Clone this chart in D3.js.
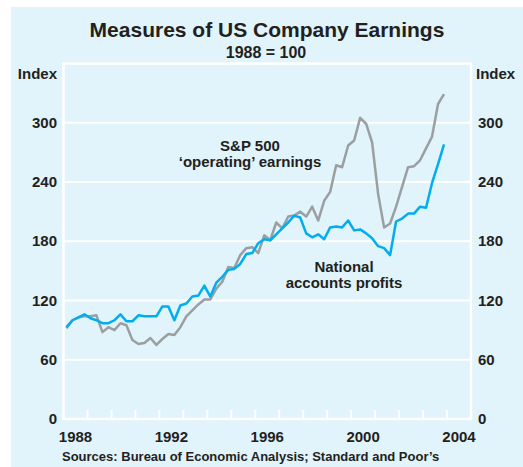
<!DOCTYPE html>
<html>
<head>
<meta charset="utf-8">
<script src="https://cdn.jsdelivr.net/npm/d3@7"></script>
<style>
  body { margin: 0; background: #fff; }
  svg text { font-family: "Liberation Sans", Arial, sans-serif; font-weight: bold; fill: #231f20; }
</style>
</head>
<body>
<svg id="chart" width="523" height="467"></svg>
<script>
// quarterly index values, 1988 Q1 .. 2003 Q4 (1988 = 100)
var quarters = d3.range(64).map(function(i) { return 1988 + i / 4 + 0.125; });

var nationalProfits = [
  93, 100, 103, 106, 102, 100, 97, 97, 100, 106, 99, 99, 105, 104, 104, 104,
  114, 114, 100, 115, 117, 124, 125, 135, 124, 138, 144, 151, 152, 157, 167, 168,
  178, 182, 181, 187, 193, 199, 206, 204, 188, 184, 187, 182, 194, 195, 194, 201,
  191, 192, 188, 183, 175, 173, 166, 200, 203, 208, 208, 215, 214, 239, 258, 278
];

var spOperating = [
  92, 100, 103, 104, 104, 105, 88, 93, 90, 97, 95, 80, 76, 77, 82, 75,
  81, 86, 85, 93, 104, 110, 116, 121, 121, 132, 139, 154, 153, 166, 173, 174,
  168, 186, 181, 199, 193, 205, 206, 210, 205, 215, 201, 221, 230, 257, 255, 277,
  282, 305, 299, 280, 228, 194, 198, 215, 235, 255, 256, 262, 274, 286, 319, 329
];

var yTicks = [0, 60, 120, 180, 240, 300];
var yearLabels = [1988, 1992, 1996, 2000, 2004];

var svg = d3.select("#chart");

// panel background
svg.append("rect")
  .attr("x", 11).attr("y", 7)
  .attr("width", 512).attr("height", 460)
  .attr("fill", "#e1f3fb");

var plotLeft = 63.5, plotRight = 471, plotTop = 63.5, plotBottom = 419;

var x = d3.scaleLinear().domain([1988, 2005]).range([plotLeft, plotRight]);
var y = d3.scaleLinear().domain([0, 360]).range([plotBottom, plotTop]);

// grid lines
svg.append("g").selectAll("line")
  .data(yTicks.filter(function(d) { return d > 0; }))
  .enter().append("line")
  .attr("x1", plotLeft).attr("x2", plotRight)
  .attr("y1", function(d) { return y(d); })
  .attr("y2", function(d) { return y(d); })
  .attr("stroke", "#fff")
  .attr("stroke-width", 2);

// frame
svg.append("rect")
  .attr("x", plotLeft).attr("y", plotTop)
  .attr("width", plotRight - plotLeft).attr("height", plotBottom - plotTop)
  .attr("fill", "none")
  .attr("stroke", "#fff")
  .attr("stroke-width", 2.5);

// year ticks along the bottom
svg.append("g").selectAll("line")
  .data(d3.range(1989, 2005))
  .enter().append("line")
  .attr("x1", function(d) { return x(d); })
  .attr("x2", function(d) { return x(d); })
  .attr("y1", plotBottom).attr("y2", plotBottom - 9)
  .attr("stroke", "#fff")
  .attr("stroke-width", 2);

// y labels both sides
svg.append("g").selectAll("text")
  .data(yTicks)
  .enter().append("text")
  .attr("x", 57)
  .attr("y", function(d) { return y(d) + 5; })
  .attr("text-anchor", "end")
  .attr("font-size", 15)
  .text(function(d) { return d; });

svg.append("g").selectAll("text")
  .data(yTicks)
  .enter().append("text")
  .attr("x", 478)
  .attr("y", function(d) { return y(d) + 5; })
  .attr("text-anchor", "start")
  .attr("font-size", 15)
  .text(function(d) { return d; });

svg.append("text").attr("x", 57).attr("y", 79)
  .attr("text-anchor", "end").attr("font-size", 15).text("Index");
svg.append("text").attr("x", 476).attr("y", 79)
  .attr("text-anchor", "start").attr("font-size", 15).text("Index");

// year labels
svg.append("g").selectAll("text")
  .data(yearLabels)
  .enter().append("text")
  .attr("x", function(d) { return x(d + 0.5); })
  .attr("y", 442)
  .attr("text-anchor", "middle")
  .attr("font-size", 15)
  .text(function(d) { return d; });

// lines
var line = d3.line()
  .x(function(d, i) { return x(quarters[i]); })
  .y(function(d) { return y(d); });

svg.append("path")
  .datum(spOperating)
  .attr("d", line)
  .attr("fill", "none")
  .attr("stroke", "#9b9fa2")
  .attr("stroke-width", 2.5)
  .attr("stroke-linejoin", "round");

svg.append("path")
  .datum(nationalProfits)
  .attr("d", line)
  .attr("fill", "none")
  .attr("stroke", "#00aeef")
  .attr("stroke-width", 2.5)
  .attr("stroke-linejoin", "round");

// series labels
svg.append("text").attr("x", 250).attr("y", 151)
  .attr("text-anchor", "middle").attr("font-size", 15).text("S&P 500");
svg.append("text").attr("x", 250).attr("y", 167)
  .attr("text-anchor", "middle").attr("font-size", 15).text("\u2018operating\u2019 earnings");
svg.append("text").attr("x", 344).attr("y", 272)
  .attr("text-anchor", "middle").attr("font-size", 15).text("National");
svg.append("text").attr("x", 344).attr("y", 288)
  .attr("text-anchor", "middle").attr("font-size", 15).text("accounts profits");

// titles
svg.append("text").attr("x", 267).attr("y", 37)
  .attr("text-anchor", "middle").attr("font-size", 21).text("Measures of US Company Earnings");
svg.append("text").attr("x", 266).attr("y", 58)
  .attr("text-anchor", "middle").attr("font-size", 16).text("1988 = 100");

svg.append("text").attr("x", 62).attr("y", 461)
  .attr("font-size", 13).text("Sources: Bureau of Economic Analysis; Standard and Poor\u2019s");
</script>
</body>
</html>
